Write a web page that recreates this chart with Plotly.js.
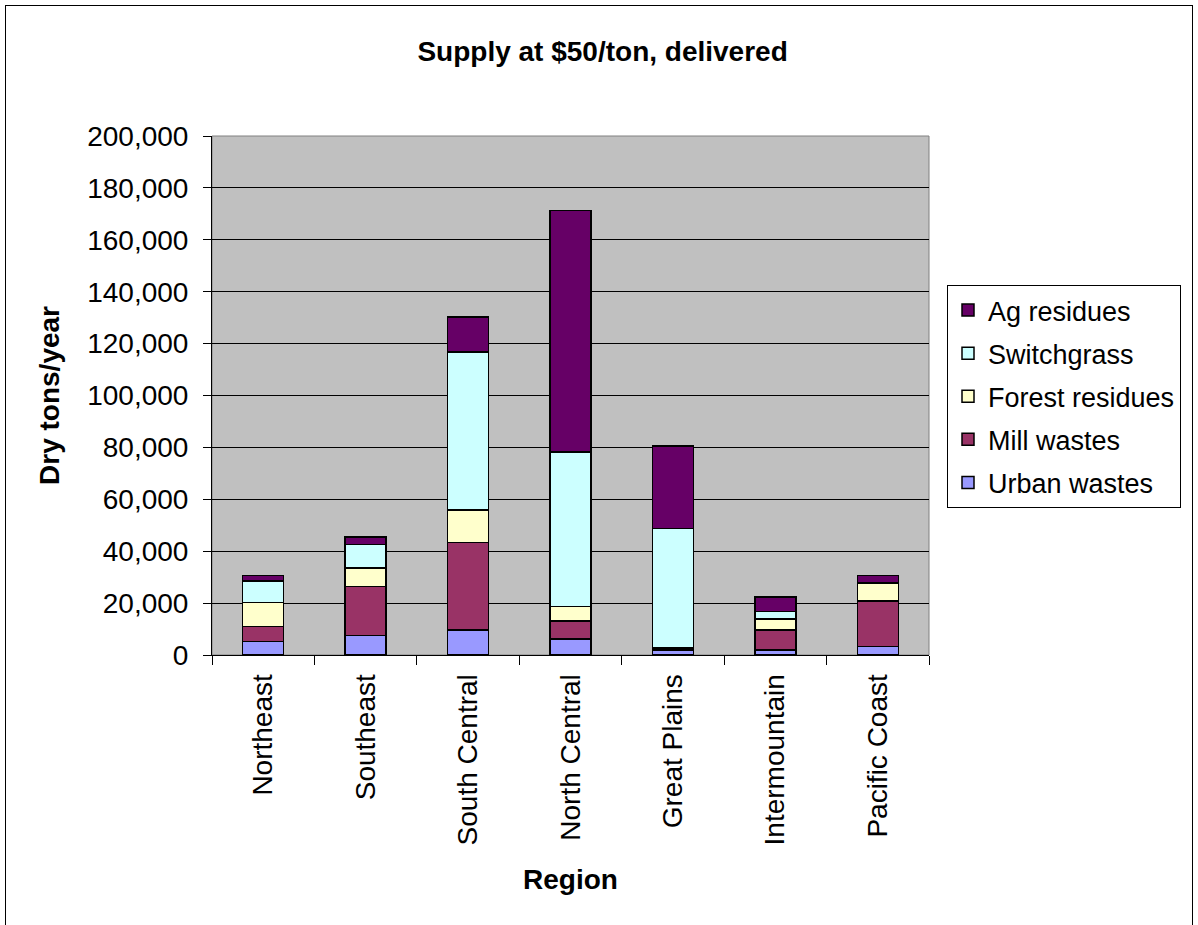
<!DOCTYPE html>
<html>
<head>
<meta charset="utf-8">
<script src="https://cdn.plot.ly/plotly-3.0.1.min.js"></script>
<style>
html,body{margin:0;padding:0;background:#fff;}
#frame{position:absolute;left:5px;top:5px;width:1188px;height:940px;border:1px solid #000;box-sizing:border-box;pointer-events:none;z-index:5;}
#chart{position:absolute;left:0;top:0;width:1198px;height:925px;}
</style>
</head>
<body>
<div id="chart"></div>
<div id="frame"></div>
<script>
const regions = ["Northeast","Southeast","South Central","North Central","Great Plains","Intermountain","Pacific Coast"];
const urbanWastes    = [5300, 7500, 9700, 6100, 2000, 2000, 3300];
const millWastes     = [5700, 18900, 33600, 6950, 700, 7600, 17500];
const forestResidues = [9150, 7050, 12600, 5700, 200, 4200, 6900];
const switchgrass    = [8350, 9050, 60900, 59450, 45800, 2900, 0];
const agResidues     = [2200, 2950, 13400, 93100, 31800, 5600, 3000];
const yTickVals = [0,20000,40000,60000,80000,100000,120000,140000,160000,180000,200000];

const FONT = "Liberation Sans, Arial, sans-serif";
function tr(name, y, color, rank){
  return {type:'bar', name:name, x:regions, y:y,
    marker:{color:color, line:{color:'#000', width:1.5}},
    legendgroup:name, legendrank:rank, hoverinfo:'skip'};
}
const data = [
  tr("Urban wastes", urbanWastes, "#9999FF", 5),
  tr("Mill wastes", millWastes, "#993366", 4),
  tr("Forest residues", forestResidues, "#FFFFCC", 3),
  tr("Switchgrass", switchgrass, "#CCFFFF", 2),
  tr("Ag residues", agResidues, "#660066", 1)
];
const layout = {
  width:1198, height:925,
  margin:{l:212, r:269, t:136, b:270},
  paper_bgcolor:'rgba(0,0,0,0)', plot_bgcolor:'#C0C0C0',
  barmode:'stack', bargap:0.6,
  font:{family:FONT, color:'#000'},
  title:{text:"<b>Supply at $50/ton, delivered</b>", font:{size:28, family:FONT, color:'#000'},
    xref:'container', yref:'container', x:0.503, xanchor:'center', y:1-51/925, yanchor:'middle'},
  xaxis:{type:'category', showline:true, linecolor:'#000', linewidth:1,
    ticks:'outside', ticklen:9, tickcolor:'#000', tickson:'boundaries',
    tickangle:-90, tickfont:{size:28, family:FONT}, ticklabelstandoff:7,
    title:{text:"<b>Region</b>", font:{size:28, family:FONT}, standoff:24},
    showgrid:false, zeroline:false},
  yaxis:{range:[0,200000], tickvals:yTickVals, tickformat:',d',
    showline:true, linecolor:'#000', linewidth:1,
    ticks:'outside', ticklen:8, tickcolor:'#000',
    tickfont:{size:28, family:FONT}, ticklabelstandoff:9,
    showgrid:true, gridcolor:'#000', gridwidth:1, zeroline:false,
    title:{text:"<b>Dry tons/year</b>", font:{size:28, family:FONT}, standoff:19}},
  legend:{x:(947-212)/717, xanchor:'left', y:(655-285)/519, yanchor:'top',
    bgcolor:'#fff', bordercolor:'#000', borderwidth:1,
    font:{size:27, family:FONT}, traceorder:'grouped', tracegroupgap:5,
    itemwidth:30},
  shapes:[{type:'rect', xref:'paper', yref:'paper', x0:0, x1:1, y0:0, y1:1,
    line:{color:'#808080', width:1}, layer:'below'}],
  showlegend:true
};
Plotly.newPlot('chart', data, layout, {staticPlot:true});
</script>
</body>
</html>
